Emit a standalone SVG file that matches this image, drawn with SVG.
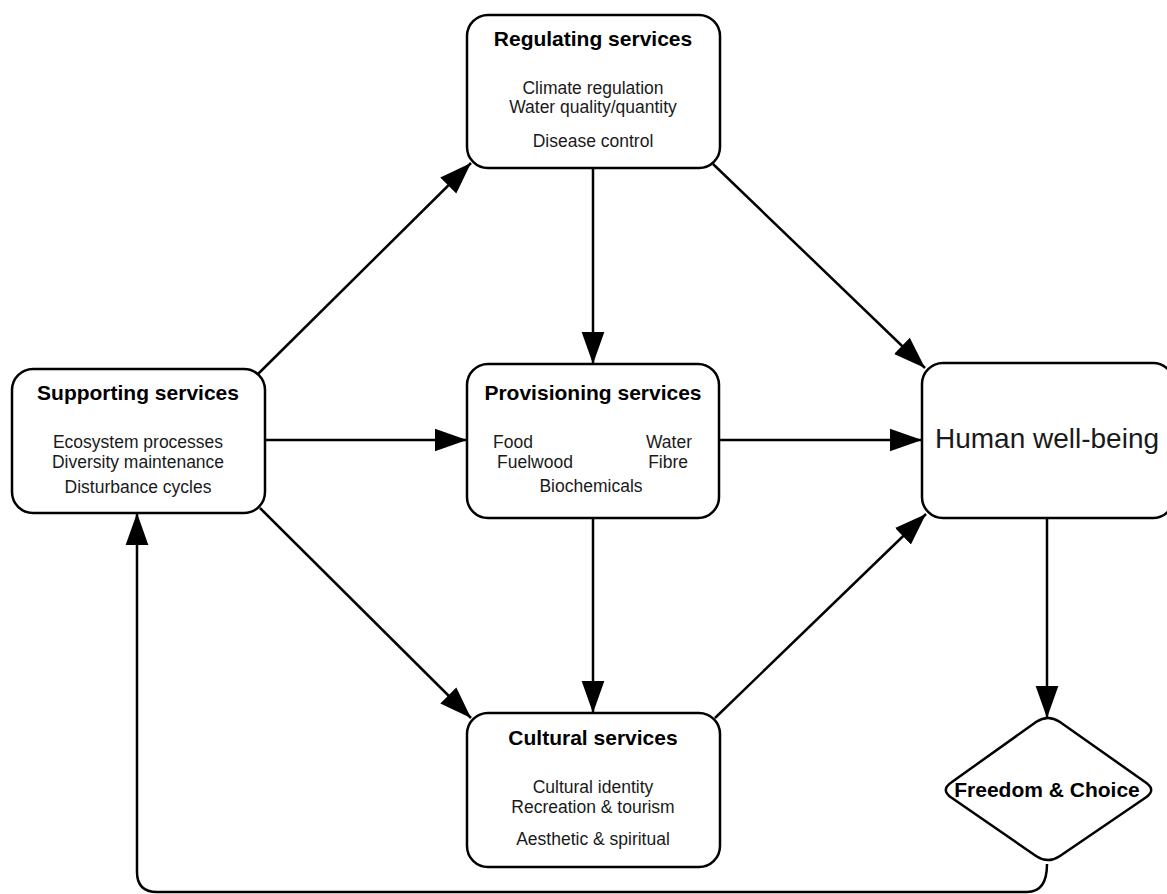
<svg xmlns="http://www.w3.org/2000/svg" width="1167" height="894" viewBox="0 0 1167 894">
<style>
.box{fill:#fff;stroke:#000;stroke-width:2.5}
.t{font-family:"Liberation Sans",Arial,sans-serif;font-weight:bold;font-size:21px;text-anchor:middle;fill:#000}
.b{font-family:"Liberation Sans",Arial,sans-serif;font-size:17.5px;text-anchor:middle;fill:#1a1a1a}
.c{fill:none;stroke:#000;stroke-width:2.5}
</style>
<defs>
<marker id="ah" markerUnits="userSpaceOnUse" markerWidth="32" markerHeight="24" viewBox="0 0 31 22" refX="31" refY="11" orient="auto">
<path d="M0,0 L31,11 L0,22 Z" fill="#000"/>
</marker>
</defs>
<rect width="1167" height="894" fill="#fff"/>
<g id="connectors">
<line class="c" x1="258" y1="374" x2="471" y2="163" marker-end="url(#ah)"/>
<line class="c" x1="713" y1="164" x2="925" y2="368" marker-end="url(#ah)"/>
<line class="c" x1="593" y1="168" x2="593" y2="364" marker-end="url(#ah)"/>
<line class="c" x1="265" y1="440" x2="467" y2="440" marker-end="url(#ah)"/>
<line class="c" x1="719" y1="440" x2="922" y2="440" marker-end="url(#ah)"/>
<line class="c" x1="260" y1="508" x2="471" y2="718" marker-end="url(#ah)"/>
<line class="c" x1="593" y1="518" x2="593" y2="713" marker-end="url(#ah)"/>
<line class="c" x1="715" y1="718" x2="926" y2="514" marker-end="url(#ah)"/>
<line class="c" x1="1047" y1="518" x2="1047" y2="718" marker-end="url(#ah)"/>
<path class="c" d="M1047,864 C1047,880 1042,892 1027,892 L157,892 Q137,892 137,872 L137,513" marker-end="url(#ah)"/>
</g>
<g id="regulating">
<rect class="box" x="467" y="15" width="253" height="153" rx="21"/>
<text class="t" x="593" y="46">Regulating services</text>
<text class="b" x="593" y="94">Climate regulation</text>
<text class="b" x="593" y="113">Water quality/quantity</text>
<text class="b" x="593" y="147">Disease control</text>
</g>
<g id="supporting">
<rect class="box" x="12" y="369" width="253" height="144" rx="21"/>
<text class="t" x="138" y="400">Supporting services</text>
<text class="b" x="138" y="448">Ecosystem processes</text>
<text class="b" x="138" y="468">Diversity maintenance</text>
<text class="b" x="138" y="493">Disturbance cycles</text>
</g>
<g id="provisioning">
<rect class="box" x="467" y="364" width="252" height="154" rx="21"/>
<text class="t" x="593" y="400">Provisioning services</text>
<text class="b" x="493" y="448" style="text-anchor:start">Food</text>
<text class="b" x="692" y="448" style="text-anchor:end">Water</text>
<text class="b" x="497" y="468" style="text-anchor:start">Fuelwood</text>
<text class="b" x="688" y="468" style="text-anchor:end">Fibre</text>
<text class="b" x="591" y="492">Biochemicals</text>
</g>
<g id="cultural">
<rect class="box" x="467" y="713" width="253" height="154" rx="21"/>
<text class="t" x="593" y="745">Cultural services</text>
<text class="b" x="593" y="793">Cultural identity</text>
<text class="b" x="593" y="813">Recreation &amp; tourism</text>
<text class="b" x="593" y="845">Aesthetic &amp; spiritual</text>
</g>
<g id="human">
<rect class="box" x="922" y="363" width="252" height="155" rx="21"/>
<text x="1047" y="448" style="font-family:'Liberation Sans',Arial,sans-serif;font-size:28px;text-anchor:middle;fill:#1a1a1a">Human well-being</text>
</g>
<g id="freedom">
<path class="box" d="M1036.4,721.8 Q1048,714 1059.6,721.8 L1145.4,782.2 Q1157,790 1145.4,797.8 L1059.6,856.2 Q1048,864 1036.4,856.2 L951.6,797.8 Q940,790 951.6,782.2 Z"/>
<text class="t" x="1047" y="797">Freedom &amp; Choice</text>
</g>
</svg>
